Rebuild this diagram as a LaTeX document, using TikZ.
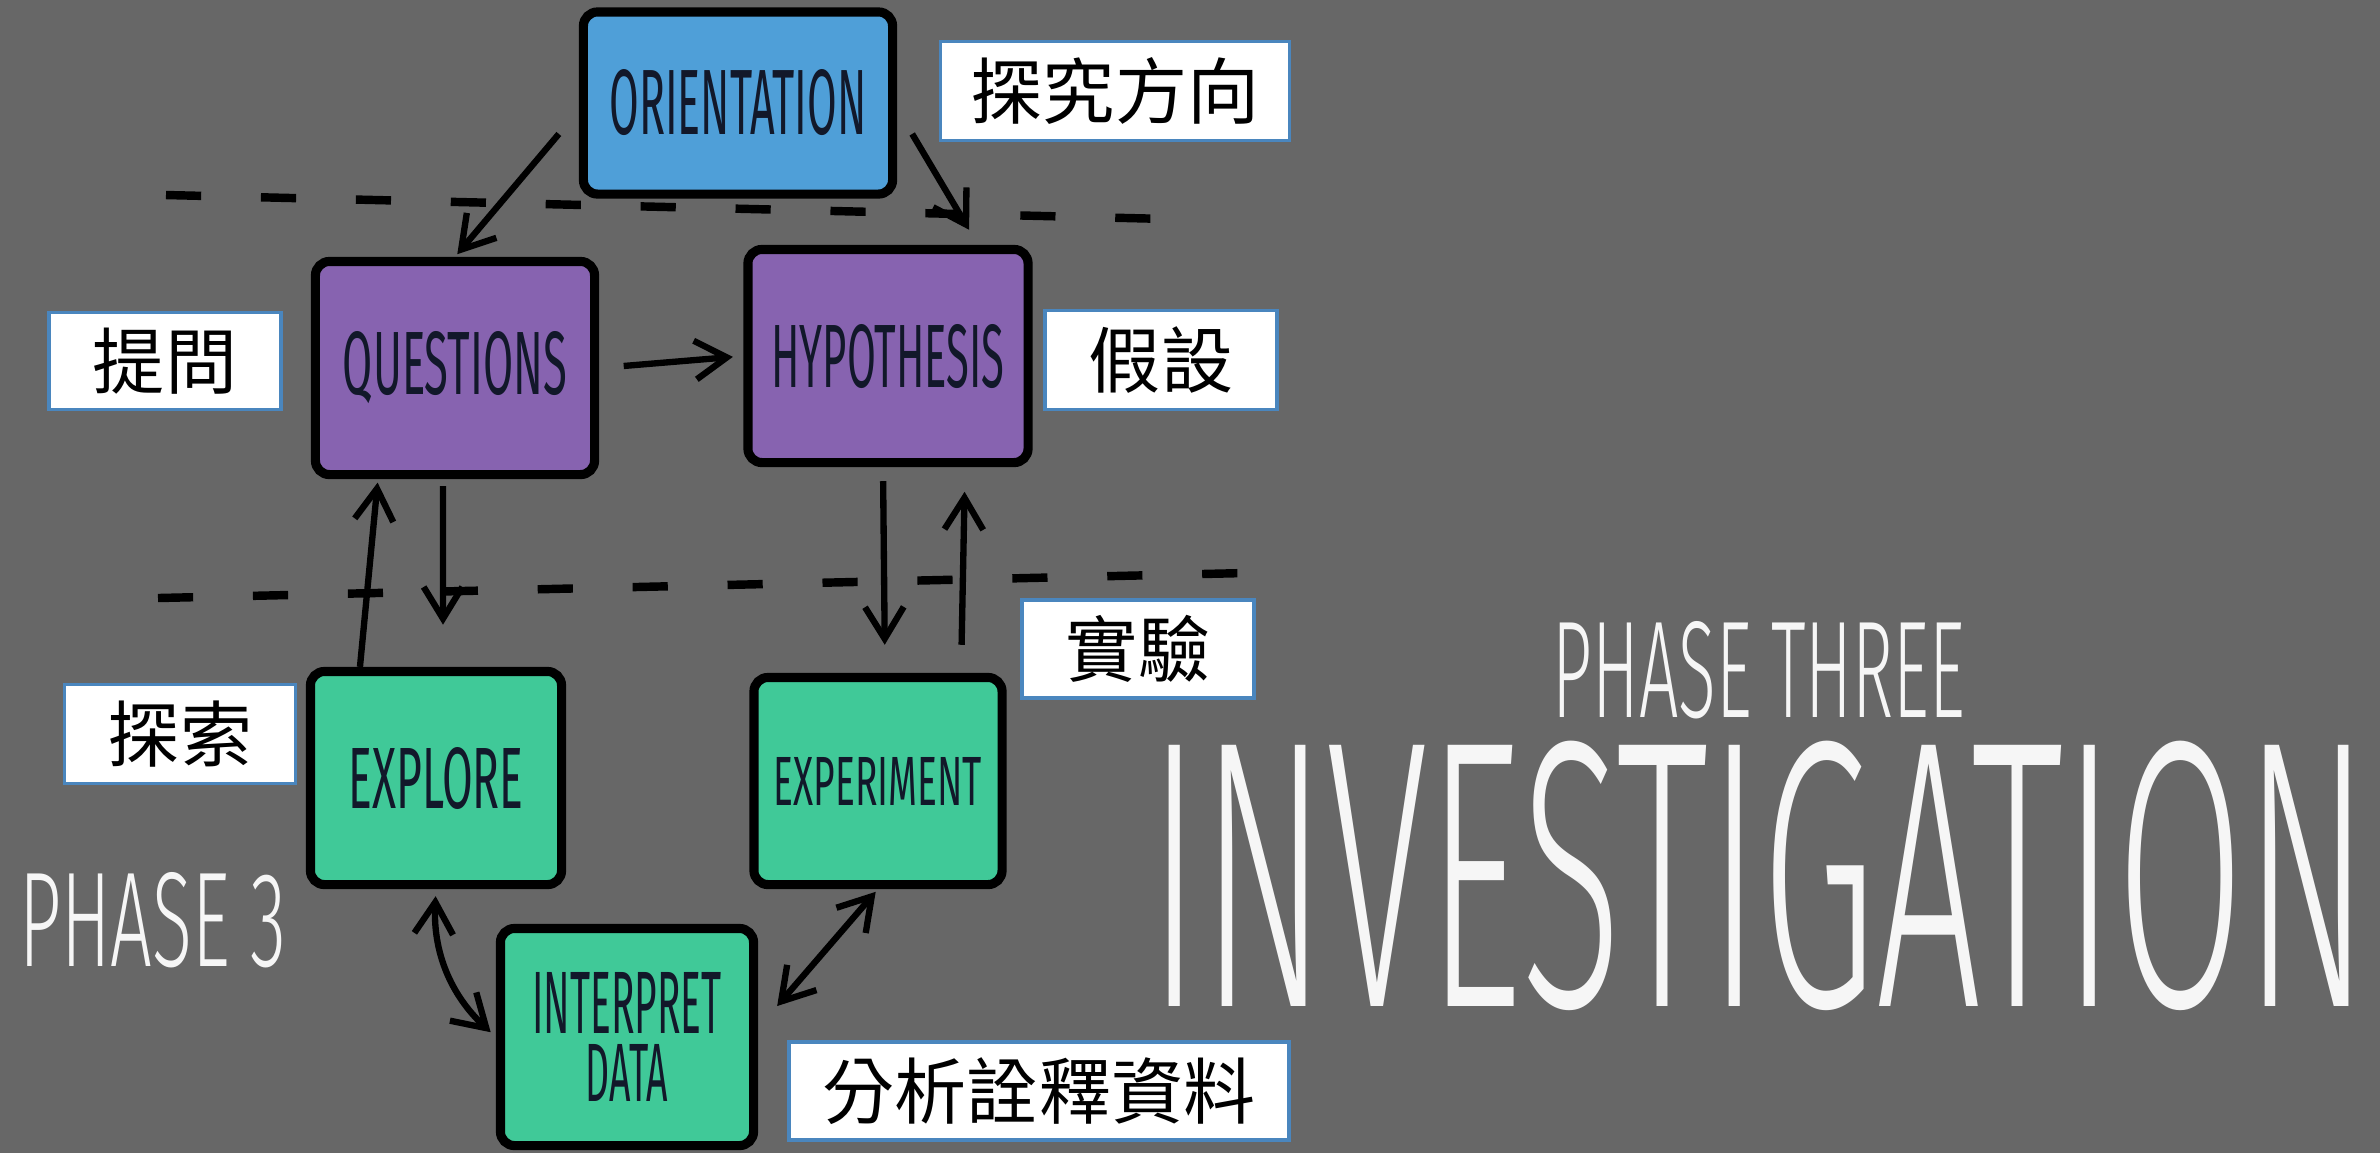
\documentclass[tikz,border=0pt]{standalone}
\usepackage{fontspec}
\setmainfont{Fira Sans}
\newfontfamily\cjk{Noto Sans CJK TC}
\newfontfamily\thinfont{Fira Sans Light}
\usetikzlibrary{positioning,calc,arrows.meta}
\tikzset{>=stealth}

\definecolor{bggray}{HTML}{676767}
\definecolor{skyblue}{HTML}{4F9FD8}
\definecolor{lilac}{HTML}{8763B0}
\definecolor{mint}{HTML}{40C998}
\definecolor{ink}{HTML}{12182A}
\definecolor{tagblue}{HTML}{4A86BE}

\begin{document}
\begin{tikzpicture}[x=0.01cm,y=-0.01cm,
  card/.style={draw=black,line width=2.6pt,rounded corners=4pt,inner sep=0pt,text=ink},
  tag/.style={draw=tagblue,line width=1pt,fill=white,inner sep=0pt,
    font=\cjk\fontsize{20.5}{24}\selectfont},
  title/.style={inner sep=0pt,text=white!93!gray,font=\thinfont},
  cut/.style={line width=2.4pt,dash pattern=on 10pt off 17pt},
  flow/.style={line width=1.8pt,-{Straight Barb[length=9pt,width=11pt]}},
  twoway/.style={line width=1.8pt,{Straight Barb[length=9pt,width=11pt]}-{Straight Barb[length=9pt,width=11pt]}}]
\fill[bggray] (0,0) rectangle (2380,1153);
\useasboundingbox (0,0) rectangle (2380,1153);

\coordinate (cutA) at (166,195);
\coordinate (cutB) at (1210,220);
\coordinate (cutC) at (158,598);
\coordinate (cutD) at (1245,573);
\draw[cut] (cutA) -- (cutB);
\draw[cut] (cutC) -- (cutD);

\node[card,fill=skyblue,minimum width=3.09cm,minimum height=1.82cm] (orient) at (738,103)
  {\resizebox{2.57cm}{0.65cm}{ORIENTATION}};
\node[card,fill=lilac,minimum width=2.79cm,minimum height=2.13cm] (quest) at (455,368)
  {\resizebox{2.24cm}{0.63cm}{QUESTIONS}};
\node[card,fill=lilac,minimum width=2.80cm,minimum height=2.13cm] (hyp) at (888,356)
  {\resizebox{2.33cm}{0.63cm}{HYPOTHESIS}};
\node[card,fill=mint,minimum width=2.51cm,minimum height=2.13cm] (expl) at (436,778)
  {\resizebox{1.75cm}{0.61cm}{EXPLORE}};
\node[card,fill=mint,minimum width=2.48cm,minimum height=2.07cm] (expe) at (878,781)
  {\resizebox{2.08cm}{0.48cm}{EXPERIMENT}};
\node[card,fill=mint,minimum width=2.53cm,minimum height=2.17cm,align=center] (interp) at (627,1037)
  {\resizebox{1.89cm}{0.61cm}{INTERPRET}\\[0.08cm]\resizebox{0.82cm}{0.57cm}{DATA}};

\node[tag,minimum width=3.49cm,minimum height=0.99cm] (tOrient) at (1115,91) {探究方向};
\node[tag,minimum width=2.32cm,minimum height=0.97cm] (tQuest) at (165,361) {提問};
\node[tag,minimum width=2.32cm,minimum height=0.99cm] (tHyp) at (1161,360) {假設};
\node[tag,minimum width=2.32cm,minimum height=0.98cm] (tExpe) at (1138,649) {實驗};
\node[tag,minimum width=2.31cm,minimum height=0.99cm] (tExpl) at (180,734) {探索};
\node[tag,minimum width=5.00cm,minimum height=0.98cm] (tInterp) at (1039,1091) {分析詮釋資料};

\node[title] (phase3) at (153,920) {\resizebox{2.67cm}{0.94cm}{PHASE 3}};
\node[title] (phaseThree) at (1759,670) {\resizebox{4.12cm}{0.96cm}{PHASE THREE}};
\node[title] (invest) at (1759,876) {\resizebox{12.20cm}{2.65cm}{INVESTIGATION}};

\draw[flow,shorten >=1pt] ([xshift=-0.2cm]orient.191) -- (quest.north);
\draw[flow,shorten >=5pt] ([xshift=0.15cm]orient.349) -- ([xshift=0.9cm]hyp.north);
\draw[flow,shorten <=7pt,shorten >=3pt] (quest.east) -- (hyp.west);
\draw[flow,shorten >=1pt] ([xshift=-0.76cm]expl.north) -- ([xshift=-0.77cm]quest.south);
\draw[flow,shorten <=2pt,shorten >=12pt] ([xshift=-0.12cm]quest.south) -- ([xshift=0.07cm]expl.north);
\draw[flow,shorten <=4pt,shorten >=8pt] ([xshift=-0.05cm]hyp.south) -- ([xshift=0.07cm]expe.north);
\draw[flow,shorten <=8pt,shorten >=7pt] ([xshift=0.83cm]expe.north) -- ([xshift=0.77cm]hyp.south);
\draw[twoway,shorten <=2pt,shorten >=2pt] (expl.south) to[bend right=25] (interp.west);
\draw[twoway,shorten <=1pt] (expe.south) -- ([xshift=0.19cm,yshift=0.31cm]interp.east);
\end{tikzpicture}
\end{document}
